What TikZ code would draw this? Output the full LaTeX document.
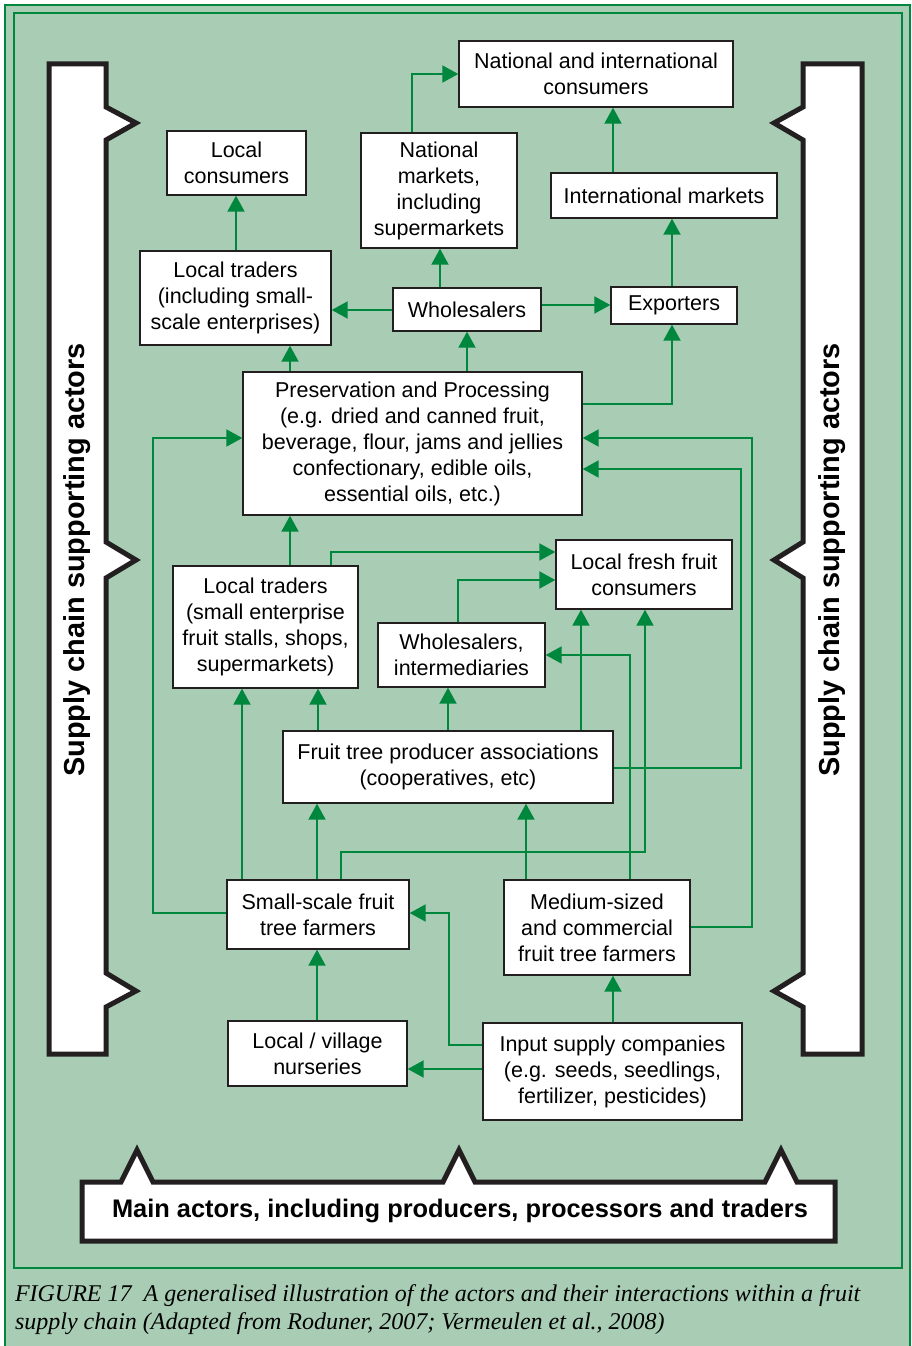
\documentclass[tikz,border=0pt]{standalone}
\usepackage{fontspec}
\usepackage{xcolor}
\setmainfont{Liberation Serif}
\setsansfont{Liberation Sans}
\usetikzlibrary{arrows.meta}

\definecolor{chaingreen}{RGB}{0,135,62}
\definecolor{panelgreen}{RGB}{168,205,180}
\definecolor{inkgray}{RGB}{35,31,32}

\begin{document}
\begin{tikzpicture}[->,>={Triangle[length=16pt,width=17pt]},x=1pt,y=-1pt,
                    line width=2pt]
  \tikzstyle{box}=[draw=inkgray,line width=1.4pt,fill=white,align=center,inner sep=0pt,
                   font=\sffamily\fontsize{21.5}{26}\selectfont]
  \tikzstyle{flow}=[chaingreen,line width=2pt]
  \tikzstyle{bracket}=[-,draw=inkgray,fill=white,line width=5pt,miter limit=10]
  \tikzstyle{sidetext}=[rotate=90,font=\sffamily\bfseries\fontsize{28.9}{32}\selectfont]

  % panel and frame
  \useasboundingbox (0,0) rectangle (912,1346);
  \fill[panelgreen] (5,5) rectangle (910,1360);
  \draw[-,chaingreen,line width=2.5pt] (5,5) rectangle (910,1360);
  \draw[-,chaingreen,line width=1.5pt] (14,13) rectangle (902,1268);

  % supporting actors, both sides
  \draw[bracket] (49,64) -- (106,64) -- (106,107) -- (136,123) -- (106,140) -- (106,542)
    -- (136,560) -- (106,578) -- (106,973) -- (136,991) -- (106,1007) -- (106,1054)
    -- (49,1054) -- cycle;
  \node[sidetext] (leftlabel) at (77,560) {Supply chain supporting actors};
  \draw[bracket] (862,64) -- (803,64) -- (803,107) -- (774,123) -- (803,140) -- (803,542)
    -- (774,560) -- (803,578) -- (803,973) -- (774,991) -- (803,1007) -- (803,1054)
    -- (862,1054) -- cycle;
  \node[sidetext] (rightlabel) at (832,560) {Supply chain supporting actors};

  % main actors
  \draw[bracket] (82,1182) -- (121,1182) -- (137,1150) -- (153,1182) -- (443,1182)
    -- (459,1150) -- (475,1182) -- (765,1182) -- (781,1150) -- (797,1182) -- (835,1182)
    -- (835,1241) -- (82,1241) -- cycle;
  \node[font=\sffamily\bfseries\fontsize{25.4}{30}\selectfont] (mainlabel) at (460,1211)
    {Main actors, including producers, processors and traders};

  % actors
  \node[box,minimum width=274pt,minimum height=66pt] (natcons) at (596,74)
    {National and international\\consumers};
  \node[box,minimum width=139pt,minimum height=64pt] (loccons) at (236.5,163)
    {Local\\consumers};
  \node[box,minimum width=156pt,minimum height=115pt] (natmarkets) at (439,190.5)
    {National\\markets,\\including\\supermarkets};
  \node[box,minimum width=226pt,minimum height=45pt] (intmarkets) at (664,195.5)
    {International markets};
  \node[box,minimum width=191pt,minimum height=94pt] (loctradA) at (235.5,298)
    {Local traders\\(including small-\\scale enterprises)};
  \node[box,minimum width=148pt,minimum height=43pt] (whole) at (467,309.5)
    {Wholesalers};
  \node[box,minimum width=126pt,minimum height=37pt] (exporters) at (674,305.5)
    {Exporters};
  \node[box,minimum width=339pt,minimum height=143pt] (proc) at (412.5,443.5)
    {Preservation and Processing\\(e.g. dried and canned fruit,\\beverage, flour, jams and jellies\\confectionary, edible oils,\\essential oils, etc.)};
  \node[box,minimum width=176pt,minimum height=69pt] (freshcons) at (644,574.5)
    {Local fresh fruit\\consumers};
  \node[box,minimum width=185pt,minimum height=122pt] (loctradB) at (265.5,627)
    {Local traders\\(small enterprise\\fruit stalls, shops,\\supermarkets)};
  \node[box,minimum width=167pt,minimum height=64pt] (wholeB) at (461.5,655)
    {Wholesalers,\\intermediaries};
  \node[box,minimum width=330pt,minimum height=72pt] (assoc) at (448,767)
    {Fruit tree producer associations\\(cooperatives, etc)};
  \node[box,minimum width=182pt,minimum height=69pt] (smallfarm) at (318,914.5)
    {Small-scale fruit\\tree farmers};
  \node[box,minimum width=186pt,minimum height=95pt] (medium) at (597,927.5)
    {Medium-sized\\and commercial\\fruit tree farmers};
  \node[box,minimum width=179pt,minimum height=65pt] (nursery) at (317.5,1053.5)
    {Local / village\\nurseries};
  \node[box,minimum width=259pt,minimum height=97pt] (input) at (612.5,1071.5)
    {Input supply companies\\(e.g. seeds, seedlings,\\fertilizer, pesticides)};

  % flows
  \draw[flow] (236,0 |- loctradA.north) -- (236,0 |- loccons.south);
  \draw[flow] (440,0 |- whole.north) -- (440,0 |- natmarkets.south);
  \draw[flow] (412,0 |- natmarkets.north) |- (natcons.west |- 0,74);
  \draw[flow] (613,0 |- intmarkets.north) -- (613,0 |- natcons.south);
  \draw[flow] (672,0 |- exporters.north) -- (672,0 |- intmarkets.south);
  \draw[flow] (whole.west |- 0,310) -- (loctradA.east |- 0,310);
  \draw[flow] (whole.east |- 0,305) -- (exporters.west |- 0,305);
  \draw[flow] (290,0 |- proc.north) -- (290,0 |- loctradA.south);
  \draw[flow] (467,0 |- proc.north) -- (467,0 |- whole.south);
  \draw[flow] (proc.east |- 0,404) -| (672,0 |- exporters.south);
  \draw[flow] (medium.east |- 0,927) -| (752,438) -- (proc.east |- 0,438);
  \draw[flow] (assoc.east |- 0,768) -| (741,469) -- (proc.east |- 0,469);
  \draw[flow] (smallfarm.west |- 0,913) -| (153,438) -- (proc.west |- 0,438);
  \draw[flow] (290,0 |- loctradB.north) -- (290,0 |- proc.south);
  \draw[flow] (331,0 |- loctradB.north) |- (freshcons.west |- 0,552);
  \draw[flow] (458,0 |- wholeB.north) |- (freshcons.west |- 0,580);
  \draw[flow] (318,0 |- assoc.north) -- (318,0 |- loctradB.south);
  \draw[flow] (448,0 |- assoc.north) -- (448,0 |- wholeB.south);
  \draw[flow] (581,0 |- assoc.north) -- (581,0 |- freshcons.south);
  \draw[flow] (242,0 |- smallfarm.north) -- (242,0 |- loctradB.south);
  \draw[flow] (317,0 |- smallfarm.north) -- (317,0 |- assoc.south);
  \draw[flow] (341,0 |- smallfarm.north) |- (645,852) -- (645,0 |- freshcons.south);
  \draw[flow] (526,0 |- medium.north) -- (526,0 |- assoc.south);
  \draw[flow] (630,0 |- medium.north) |- (wholeB.east |- 0,655);
  \draw[flow] (input.west |- 0,1045) -| (449,913) -- (smallfarm.east |- 0,913);
  \draw[flow] (input.west |- 0,1069) -- (nursery.east |- 0,1069);
  \draw[flow] (317,0 |- nursery.north) -- (317,0 |- smallfarm.south);
  \draw[flow] (613,0 |- input.north) -- (613,0 |- medium.south);

  % caption
  \node[anchor=north west,align=left,inner sep=0pt,
        font=\itshape\fontsize{24}{28}\selectfont] (caption) at (14,1284)
    {FIGURE 17\ \ A generalised illustration of the actors and their interactions within a fruit\\
     supply chain (Adapted from Roduner, 2007; Vermeulen et al., 2008)};
\end{tikzpicture}
\end{document}
